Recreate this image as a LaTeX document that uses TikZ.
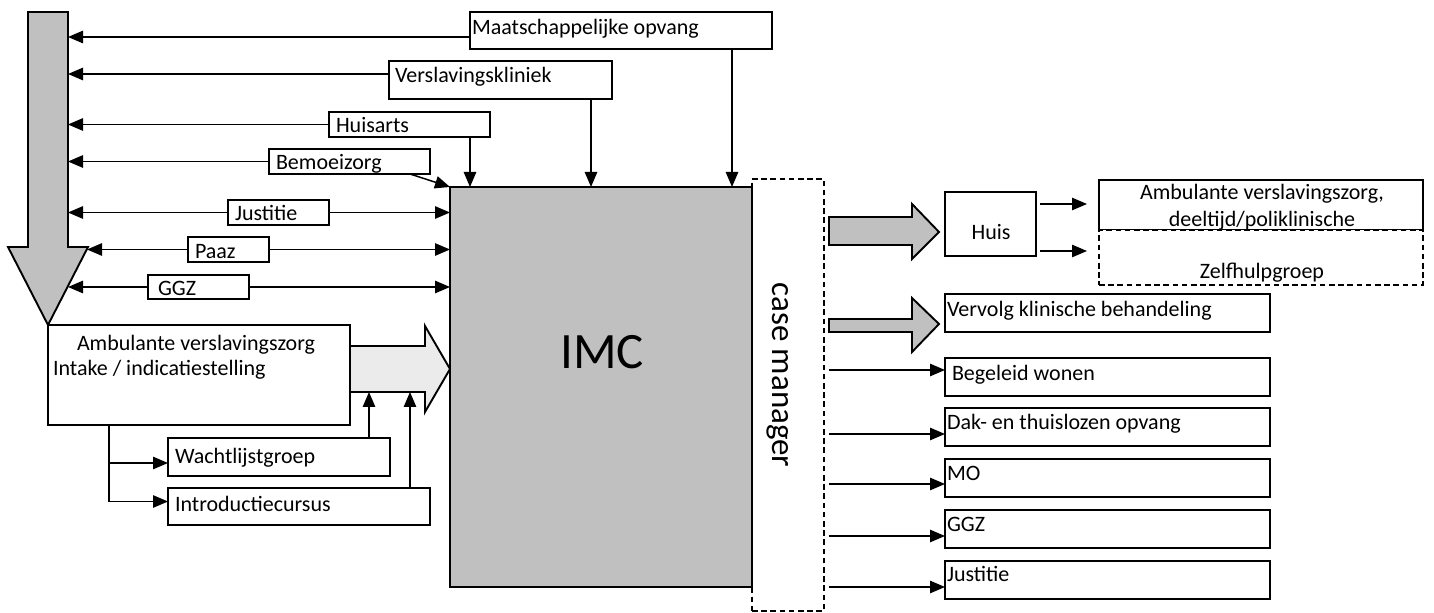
\documentclass[tikz,border=0pt]{standalone}
\usepackage{fontspec}
\setmainfont{Carlito}
\usetikzlibrary{arrows.meta,fit,calc,backgrounds}
\definecolor{imcgray}{RGB}{192,192,192}
\definecolor{paleflow}{RGB}{235,235,235}
\begin{document}
\begin{tikzpicture}[x=0.5pt,y=-0.5pt,
  box/.style={draw, line width=0.95pt, fill=white, inner sep=0pt, outer sep=0pt},
  dbox/.style={box, dash pattern=on 2.8pt off 1.8pt},
  lbl/.style={inner sep=0pt, outer sep=0pt, anchor=base west, font=\fontsize{11}{13}\selectfont},
  clbl/.style={lbl, anchor=base},
  tip/.tip={Triangle[length=7.5pt,width=6.2pt]},
  link/.style={line width=0.75pt, -tip},
  dlink/.style={line width=0.75pt, tip-tip},
  flow/.style={draw, line width=0.95pt, line join=miter, fill=imcgray},
]
\useasboundingbox (0,0) rectangle (1434,613);

% reference points on the drawn block arrows
\coordinate (shaftR) at (68,0);
\coordinate (headR) at (87,0);
\coordinate (lshaftB) at (0,392);
\coordinate (rstart) at (829,0);

% big downward flow arrow on the left
\path[flow] (28,12) -- (68,12) -- (68,247) -- (88,247) -- (48,325) -- (8,247) -- (28,247) -- cycle;

% case manager frame and the IMC block
\node[dbox, fill=none, fit={(752,179) (824,611)}] (cm) {};
\node[box, fill=imcgray, fit={(450,187) (752,587)}] (imc) {};
\node[inner sep=0pt, font=\fontsize{25.5}{30}\selectfont] (timc) at (602,352) {IMC};
\node[inner sep=0pt, rotate=-90, font=\fontsize{16.5}{20}\selectfont] (tcm) at (778,375) {case manager};

% intake flow into IMC
\path[draw, line width=0.95pt, line join=miter, fill=paleflow]
  (350,346) -- (425,346) -- (425,326) -- (450,369) -- (425,412) -- (425,392) -- (350,392) -- cycle;

% outgoing flows on the right
\path[flow] (829,217) -- (912,217) -- (912,204) -- (939,232) -- (912,259) -- (912,245) -- (829,245) -- cycle;
\path[flow] (829,319) -- (912,319) -- (912,298) -- (939,324) -- (912,352) -- (912,332) -- (829,332) -- cycle;

% referring organisations
\node[box, fit={(470,12) (772,49)}] (mo1) {};
\node[box, fit={(389,61) (612,99)}] (vk) {};
\node[box, fit={(329,112) (490,137)}] (ha) {};
\node[box, fit={(269,149) (430,174)}] (bz) {};
\node[box, fit={(228,200) (329,225)}] (jl) {};
\node[box, fit={(188,237) (269,262)}] (pz) {};
\node[box, fit={(148,275) (249,299)}] (gl) {};

\node[lbl] (tmo1) at (472,35) {Maatschappelijke opvang};
\node[lbl] (tvk) at (395,83) {Verslavingskliniek};
\node[lbl] (tha) at (336,133) {Huisarts};
\node[lbl] (tbz) at (276,170) {Bemoeizorg};
\node[lbl] (tjl) at (235,221) {Justitie};
\node[lbl] (tpz) at (195,259) {Paaz};
\node[lbl] (tgl) at (158,296) {GGZ};

% outpatient intake and the pre-treatment groups
\node[box, fit={(48,325) (350,425)}] (amb) {};
\node[lbl] (tamb1) at (77,351) {Ambulante verslavingszorg};
\node[lbl] (tamb2) at (53,376) {Intake / indicatiestelling};
\node[box, fit={(168,438) (390,476)}] (wg) {};
\node[box, fit={(168,488) (430,525)}] (ic) {};
\node[lbl] (twg) at (175,464) {Wachtlijstgroep};
\node[lbl] (tic) at (175,512) {Introductiecursus};

% aftercare
\node[box, fit={(945,192) (1036,256)}] (huis) {};
\node[clbl] (thuis) at (991,240) {Huis};
\node[box, fit={(1099,180) (1423,230)}] (avz) {};
\node[clbl] (tavz1) at (1262,200) {Ambulante verslavingszorg,};
\node[clbl] (tavz2) at (1262,227) {deeltijd/poliklinische};
\node[dbox, fit={(1099,230) (1423,285)}] (zh) {};
\node[clbl] (tzh) at (1262,279) {Zelfhulpgroep};

\node[box, fit={(945,294) (1270,332)}] (vkb) {};
\node[box, fit={(945,358) (1270,396)}] (bw) {};
\node[box, fit={(945,408) (1270,446)}] (dt) {};
\node[box, fit={(945,459) (1270,497)}] (mo2) {};
\node[box, fit={(945,510) (1270,548)}] (gr) {};
\node[box, fit={(945,561) (1270,599)}] (jr) {};
\node[lbl] (tvkb) at (947,317) {Vervolg klinische behandeling};
\node[lbl] (tbw) at (952,381) {Begeleid wonen};
\node[lbl] (tdt) at (947,430) {Dak- en thuislozen opvang};
\node[lbl] (tmo2) at (947,481) {MO};
\node[lbl] (tgr) at (947,532) {GGZ};
\node[lbl] (tjr) at (947,582) {Justitie};

\begin{scope}[on background layer]
  % referrals back to the intake stream
  \draw[link] ($(mo1.west)+(0,6.5)$) coordinate (a1) -- (a1 -| shaftR);
  \draw[link] ($(vk.west)+(0,-6)$) coordinate (a2) -- (a2 -| shaftR);
  \draw[link] (ha.west) -- (ha.west -| shaftR);
  \draw[link] (bz.west) -- (bz.west -| shaftR);
  % two-way links
  \draw[dlink] (jl.west -| shaftR) -- (jl.east -| imc.west);
  \draw[dlink] (pz.west -| headR) -- (pz.east -| imc.west);
  \draw[dlink] (gl.west -| shaftR) -- (gl.east -| imc.west);
  % direct admissions into IMC
  \draw[link] ($(ha.south east)+(-20,0)$) coordinate (d1) -- (d1 |- imc.north);
  \draw[link] ($(vk.south east)+(-21,0)$) coordinate (d2) -- (d2 |- imc.north);
  \draw[link] ($(mo1.south east)+(-40,0)$) coordinate (d3) -- (d3 |- imc.north);
  \draw[link] ($(bz.south east)+(-20,0)$) -- (imc.north west);
  % intake to groups and on to IMC
  \draw[link] ($(amb.south west)+(61,0)$) |- ($(wg.west)+(0,6)$);
  \draw[link] ($(amb.south west)+(61,0)$) |- ($(ic.west)+(0,-5)$);
  \draw[link] ($(wg.north west)+(201,0)$) coordinate (u1) -- (u1 |- lshaftB);
  \draw[link] ($(ic.north west)+(242,0)$) coordinate (u2) -- (u2 |- lshaftB);
  % from home to further support
  \draw[link] ($(huis.east)+(4,-20)$) -- ($(huis.east)+(51,-20)$);
  \draw[link] ($(huis.east)+(4,27)$) -- ($(huis.east)+(51,27)$);
  % case manager referrals
  \path ($(bw.west)+(0,-7)$) coordinate (e1)
        ($(dt.west)+(0,7)$) coordinate (e2)
        ($(mo2.west)+(0,6)$) coordinate (e3)
        ($(gr.west)+(0,7)$) coordinate (e4)
        ($(jr.west)+(0,7)$) coordinate (e5);
  \foreach \e in {e1,e2,e3,e4,e5}
    \draw[link] (\e -| rstart) -- (\e);
\end{scope}
\end{tikzpicture}
\end{document}
